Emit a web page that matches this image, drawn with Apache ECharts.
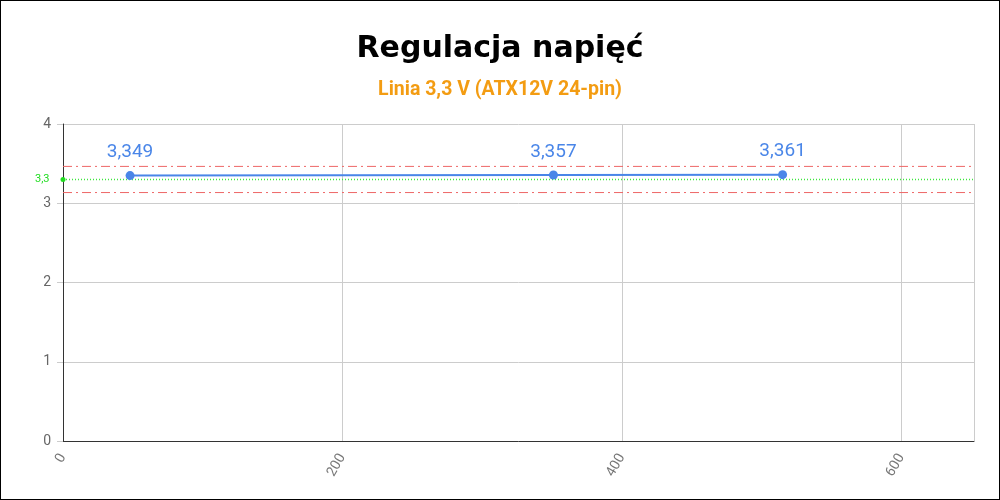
<!DOCTYPE html>
<html>
<head>
<meta charset="utf-8">
<script src="https://cdn.jsdelivr.net/npm/echarts@6/dist/echarts.min.js"></script>
<style>
  html, body { margin: 0; padding: 0; background: #fff; }
  #chart { width: 998px; height: 498px; border: 1px solid #000; }
</style>
</head>
<body>
<div id="chart"></div>
<script>
// data
var loadX = [48, 351, 515];
var voltage = [3.349, 3.357, 3.361];
var xMax = 652;
var nominal = 3.3;
var upperLimit = 3.465;
var lowerLimit = 3.135;

function comma(v) {
  return String(v).replace(".", ",");
}

var points = loadX.map(function (x, i) {
  return [x, voltage[i]];
});

// horizontal reference line across the whole x range
function refLine(y, color, dash) {
  return {
    type: "line",
    data: [
      [0, y],
      [xMax, y],
    ],
    symbol: "none",
    silent: true,
    animation: false,
    z: 1,
    lineStyle: { color: color, width: 1, type: dash },
  };
}

var myChart = echarts.init(document.getElementById("chart"), null, { renderer: "canvas" });

var nominalLine = refLine(nominal, "#3ee83e", [1, 2]);
nominalLine.lineStyle.width = 1.3;
nominalLine.data = [
  { value: [0, nominal], symbol: "circle", symbolSize: 5, itemStyle: { color: "#22dd22" } },
  [xMax, nominal],
];
nominalLine.label = {
  show: true,
  position: "left",
  distance: 11,
  color: "#22dd22",
  fontSize: 11,
  formatter: function (p) {
    return p.dataIndex == 0 ? comma(nominal) : "";
  },
};

var option = {
  backgroundColor: "#fff",
  textStyle: { fontFamily: "Roboto" },
  title: [
    {
      text: "Regulacja napięć",
      left: "center",
      top: 28,
      textStyle: { fontSize: 30, fontWeight: "bold", color: "#000", fontFamily: "DejaVu Sans" },
    },
    {
      text: "Linia 3,3 V (ATX12V 24-pin)",
      left: "center",
      top: 74,
      textStyle: { fontSize: 19.5, fontWeight: "bold", color: "#f39c12", fontFamily: "Roboto" },
    },
  ],
  grid: { left: 62, right: 25, top: 123, bottom: 58 },
  xAxis: {
    type: "value",
    min: 0,
    max: xMax,
    interval: 200,
    axisLine: { show: true, lineStyle: { color: "#333", width: 1 } },
    axisTick: { show: false },
    splitLine: { show: true, lineStyle: { color: "#ccc" } },
    axisLabel: {
      rotate: 60,
      color: "#777",
      fontSize: 14,
      margin: 14,
      showMaxLabel: false,
    },
  },
  yAxis: {
    type: "value",
    min: 0,
    max: 4,
    interval: 1,
    axisLine: { show: true, lineStyle: { color: "#333", width: 1 } },
    axisTick: { show: true, length: 6, lineStyle: { color: "#ccc" } },
    splitLine: { show: true, lineStyle: { color: "#ccc" } },
    axisLabel: { color: "#666", fontSize: 14, margin: 12 },
  },
  series: [
    refLine(upperLimit, "#ee6666", [9, 4, 2, 4]),
    refLine(lowerLimit, "#ee6666", [9, 4, 2, 4]),
    nominalLine,
    {
      type: "line",
      data: points,
      symbol: "circle",
      symbolSize: 9,
      z: 3,
      lineStyle: { color: "#4a86e8", width: 2 },
      itemStyle: { color: "#4a86e8" },
      label: {
        show: true,
        position: "top",
        distance: 9,
        color: "#4a86e8",
        fontSize: 19,
        formatter: function (p) {
          return comma(p.value[1]);
        },
      },
    },
  ],
};

myChart.setOption(option);
window.addEventListener("resize", myChart.resize);
</script>
</body>
</html>
